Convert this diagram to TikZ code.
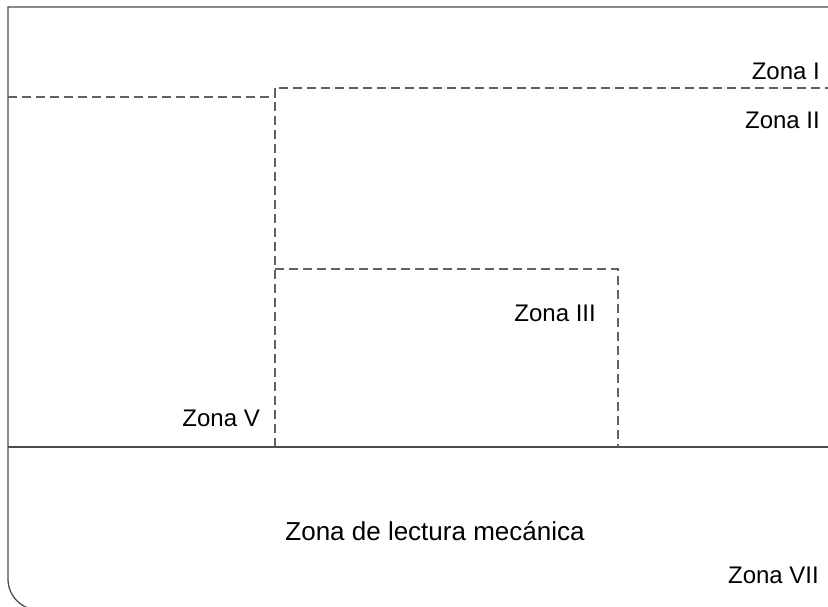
\documentclass[tikz,border=0pt]{standalone}
\usepackage{fontspec}
\setmainfont{Liberation Sans}
\begin{document}
\begin{tikzpicture}[x=1pt,y=-1pt,
  frameline/.style={draw=black!70,line width=1.3pt},
  zoneline/.style={draw=black!62,line width=1.3pt,dash pattern=on 9pt off 5pt},
  zonelabel/.style={font=\fontsize{24}{28}\selectfont,anchor=base east,inner sep=0pt},
  biglabel/.style={font=\fontsize{26}{30}\selectfont,anchor=base,inner sep=0pt}]
\useasboundingbox (0,0) rectangle (828,607);
\begin{scope}
\clip (0,0) rectangle (828,607);
% outer frame with rounded bottom corners, cut by the page border
\draw[frameline] (850,7) -- (8,7) -- (8,579) arc[start angle=180,end angle=90,radius=31] -- (819,610) arc[start angle=90,end angle=0,radius=31] -- cycle;
% solid separator
\draw[frameline] (8,447) -- (840,447);
% dashed zones
\draw[zoneline] (8,97) -- (275,97) -- (275,88) -- (840,88);
\draw[zoneline] (275,88) -- (275,447);
\draw[zoneline] (275,269) -- (618,269) -- (618,447);
\end{scope}
\node[zonelabel] (z1) at (820,80) {Zona I};
\node[zonelabel] (z2) at (820,129) {Zona II};
\node[zonelabel] (z3) at (596,321) {Zona III};
\node[zonelabel] (z5) at (260,426) {Zona V};
\node[biglabel] (zm) at (435,540) {Zona de lectura mecánica};
\node[zonelabel] (z7) at (819,583) {Zona VII};
\end{tikzpicture}
\end{document}
